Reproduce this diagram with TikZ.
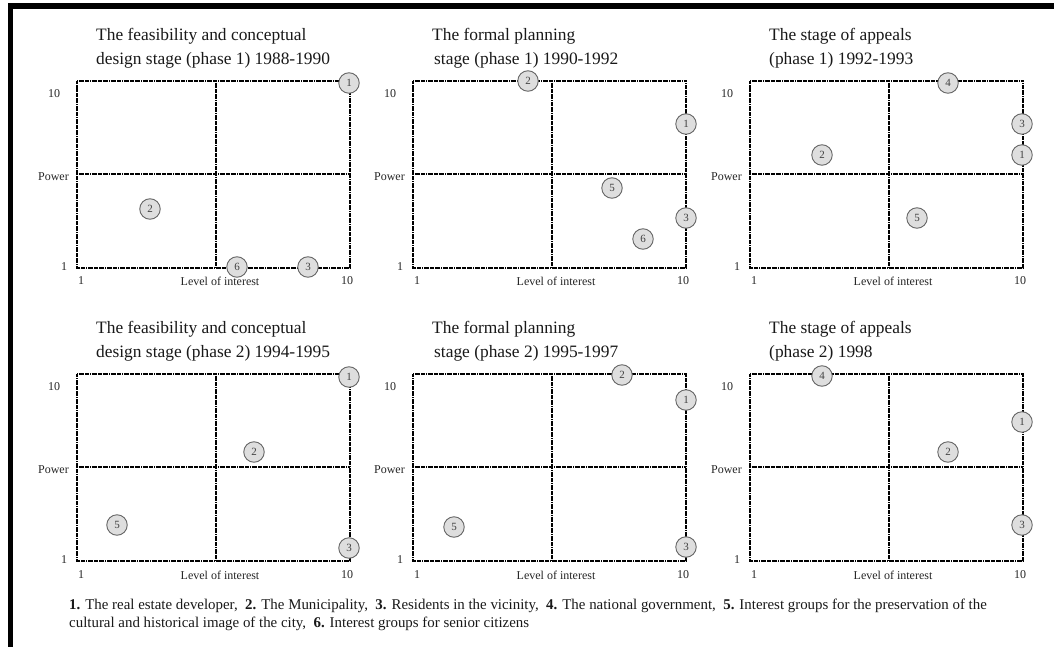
\documentclass[tikz,border=0pt]{standalone}
\usepackage{fontspec}
\setmainfont{Liberation Serif}
\begin{document}
\begin{tikzpicture}[x=1pt,y=-1pt,
  grid/.style={line width=2.3pt, dash pattern=on 1pt off 0.7pt on 4pt off 0.7pt, black},
  actor/.style={circle, draw=black!60, fill=black!13, line width=0.9pt, minimum size=20.5pt, inner sep=0pt, font=\fontsize{11}{11}\selectfont, text=black!75},
  ttl/.style={anchor=west, align=left, font=\fontsize{17.4}{24}\selectfont, text=black!90, inner sep=0pt},
  lbl/.style={font=\fontsize{12}{12}\selectfont, inner sep=0pt, text=black!85},
  legendtxt/.style={anchor=west, align=left, font=\fontsize{14.9}{18}\selectfont, text=black!90, inner sep=0pt}]
\useasboundingbox (0,0) rectangle (1054,647);
\fill[white] (0,0) rectangle (1054,647);
\fill[black] (8,3) rectangle (1054,9);
\fill[black] (8,3) rectangle (13,647);

\newcommand\stkpanel[5]{%
 \begin{scope}[shift={(#1,#2)}]
  \coordinate (#3a) at (0,0);
  \coordinate (#3b) at (273,0);
  \coordinate (#3c) at (273,187);
  \coordinate (#3d) at (0,187);
  \coordinate (#3mt) at (139,0);
  \coordinate (#3mb) at (139,187);
  \coordinate (#3ml) at (0,93);
  \coordinate (#3mr) at (273,93);
  \draw[grid] (#3a) -- (#3b) -- (#3c) -- (#3d) -- cycle;
  \draw[grid] (#3mt) -- (#3mb);
  \draw[grid] (#3ml) -- (#3mr);
  \node[ttl] (#3title) at (19,-33) {#4};
  \node[lbl] (#3ytop) at (-23,13) {10};
  \node[lbl] (#3ybot) at (-13,186) {1};
  \node[lbl, anchor=east] (#3ylab) at (-8,96) {Power};
  \node[lbl] (#3xl) at (4,#5) {1};
  \node[lbl] (#3xlab) at (143,#5) {Level of interest};
  \node[lbl] (#3xr) at (270,#5) {10};
 \end{scope}}

\stkpanel{77}{81}{pA}{The feasibility and conceptual\\design stage (phase 1) 1988-1990}{200}
\stkpanel{413}{81}{pB}{The formal planning\\\hspace*{2pt}stage (phase 1) 1990-1992}{200}
\stkpanel{750}{81}{pC}{The stage of appeals\\(phase 1) 1992-1993}{200}
\stkpanel{77}{374}{pD}{The feasibility and conceptual\\design stage (phase 2) 1994-1995}{201}
\stkpanel{413}{374}{pE}{The formal planning\\\hspace*{2pt}stage (phase 2) 1995-1997}{201}
\stkpanel{750}{374}{pF}{The stage of appeals\\(phase 2) 1998}{201}

% panel A
\node[actor] (a1) at (349,83) {1};
\node[actor] (a2) at (150,209) {2};
\node[actor] (a6) at (237,267) {6};
\node[actor] (a3) at (308,267) {3};
% panel B
\node[actor] (b2) at (528,81) {2};
\node[actor] (b1) at (686,124) {1};
\node[actor] (b5) at (612,188) {5};
\node[actor] (b3) at (686,218) {3};
\node[actor] (b6) at (643,239) {6};
% panel C
\node[actor] (c4) at (948,83) {4};
\node[actor] (c3) at (1022,124) {3};
\node[actor] (c1) at (1022,155) {1};
\node[actor] (c2) at (822,155) {2};
\node[actor] (c5) at (917,218) {5};
% panel D
\node[actor] (d1) at (349,377) {1};
\node[actor] (d2) at (254,452) {2};
\node[actor] (d5) at (117,525) {5};
\node[actor] (d3) at (349,548) {3};
% panel E
\node[actor] (e2) at (622,375) {2};
\node[actor] (e1) at (686,400) {1};
\node[actor] (e5) at (454,527) {5};
\node[actor] (e3) at (686,547) {3};
% panel F
\node[actor] (f4) at (822,376) {4};
\node[actor] (f1) at (1022,422) {1};
\node[actor] (f2) at (948,452) {2};
\node[actor] (f3) at (1022,525) {3};

\node[legendtxt] (legend) at (69,615) {\textbf{1.} The real estate developer,\ \ \textbf{2.} The Municipality,\ \ \textbf{3.} Residents in the vicinity,\ \ \textbf{4.} The national government,\ \ \textbf{5.} Interest groups for the preservation of the\\cultural and historical image of the city,\ \ \textbf{6.} Interest groups for senior citizens};
\end{tikzpicture}
\end{document}
